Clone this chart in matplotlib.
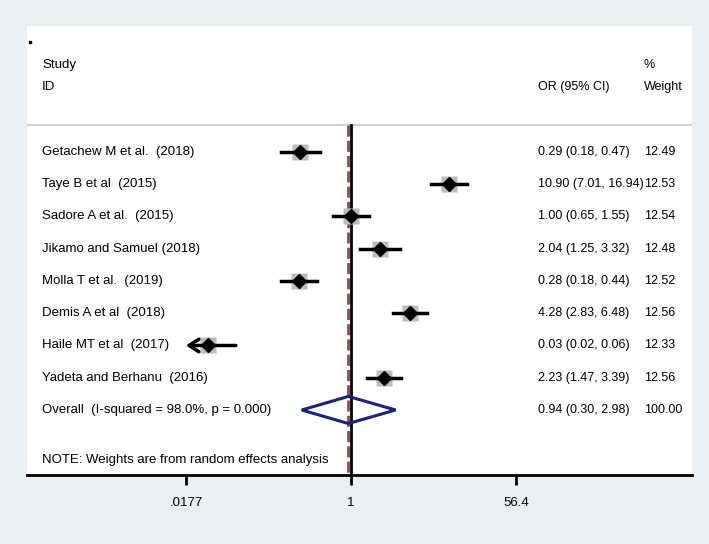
import numpy as np
import matplotlib
matplotlib.use("Agg")
import matplotlib.pyplot as plt
from matplotlib.patches import Polygon

plt.rcParams['font.family'] = ['Liberation Sans', 'DejaVu Sans']

# study data (odds ratios, 95% CI, weights)
studies = ["Getachew M et al.  (2018)", "Taye B et al  (2015)", "Sadore A et al.  (2015)",
           "Jikamo and Samuel (2018)", "Molla T et al.  (2019)", "Demis A et al  (2018)",
           "Haile MT et al  (2017)", "Yadeta and Berhanu  (2016)"]
or_est = [0.29, 10.90, 1.00, 2.04, 0.28, 4.28, 0.03, 2.23]
ci_low = [0.18, 7.01, 0.65, 1.25, 0.18, 2.83, 0.02, 1.47]
ci_high = [0.47, 16.94, 1.55, 3.32, 0.44, 6.48, 0.06, 3.39]
weights = ["12.49", "12.53", "12.54", "12.48", "12.52", "12.56", "12.33", "12.56"]
or_labels = ["0.29 (0.18, 0.47)", "10.90 (7.01, 16.94)", "1.00 (0.65, 1.55)",
             "2.04 (1.25, 3.32)", "0.28 (0.18, 0.44)", "4.28 (2.83, 6.48)",
             "0.03 (0.02, 0.06)", "2.23 (1.47, 3.39)"]

overall_label = "Overall  (I-squared = 98.0%, p = 0.000)"
overall_or = 0.94
overall_ci = (0.30, 2.98)
overall_text = "0.94 (0.30, 2.98)"
overall_weight = "100.00"

xticks = [0.0177, 1, 56.4]
xtick_labels = [".0177", "1", "56.4"]
axis_min = 0.0177

bg = "#e9f1f0"
fig = plt.figure(figsize=(7.09, 5.44), dpi=100, facecolor=bg)
ax = fig.add_axes([27 / 709, 1 - 475 / 544, 665 / 709, 449 / 544])
ax.set_facecolor("white")
ax.set_xscale("log")
ax.set_xlim(np.exp(-7.92), np.exp(8.34))
ax.set_ylim(10.016, -3.907)

for s in ["top", "left", "right"]:
    ax.spines[s].set_visible(False)
ax.spines["bottom"].set_linewidth(2)
ax.set_yticks([])
ax.set_xticks(xticks)
ax.set_xticklabels(xtick_labels, fontsize=9.5)
ax.xaxis.set_minor_locator(matplotlib.ticker.NullLocator())
ax.tick_params(axis="x", direction="out", length=7, width=2, pad=9)

tr = ax.get_yaxis_transform()  # x in axes fraction, y in data
tx = 15 / 665
or_x = (538 - 27) / 665
w_x = (644 - 27) / 665
fs = 9.5   # label column
fn = 9     # numeric columns

# header
ax.text(tx, -2.70, "Study", transform=tr, fontsize=fs, va="center")
ax.text(tx, -2.02, "ID", transform=tr, fontsize=fs, va="center")
ax.text(w_x, -2.70, "%", transform=tr, fontsize=fn, va="center")
ax.text(w_x, -2.02, "Weight", transform=tr, fontsize=fn, va="center")
ax.text(or_x, -2.02, "OR (95% CI)", transform=tr, fontsize=fn, va="center")
ax.plot([3 / 665], [-3.40], marker="s", ms=2, color="black", transform=tr)

# separator line under header
ax.axhline(-0.84, color="#c8c8c8", lw=1.2, zorder=1)

# reference lines
ax.plot([1, 1], [-0.84, 10.016], color="black", lw=2, zorder=2)
ax.plot([overall_or, overall_or], [-0.84, 10.016], color="#9b4455", lw=2,
        ls=(0, (4, 1.5)), zorder=2)

for i in range(len(studies)):
    ax.text(tx, i, studies[i], transform=tr, fontsize=fs, va="center")
    ax.text(or_x, i, or_labels[i], transform=tr, fontsize=fn, va="center")
    ax.text(w_x, i, weights[i], transform=tr, fontsize=fn, va="center")
    ax.plot(or_est[i], i, marker="s", ms=11, color="#bdbdbd", mec="none", zorder=3)
    if ci_low[i] <= 0.02:
        ax.annotate("", xy=(axis_min, i), xytext=(ci_high[i], i),
                    arrowprops=dict(arrowstyle="->,head_length=0.7,head_width=0.45",
                                    lw=2.5, color="black", shrinkA=0, shrinkB=0),
                    zorder=4)
    else:
        ax.plot([ci_low[i], ci_high[i]], [i, i], color="black", lw=2.5, zorder=4)
    ax.plot(or_est[i], i, marker="D", ms=7, color="black", zorder=5)

# overall
k = len(studies)
ax.text(tx, k, overall_label, transform=tr, fontsize=fs, va="center")
ax.text(or_x, k, overall_text, transform=tr, fontsize=fn, va="center")
ax.text(w_x, k, overall_weight, transform=tr, fontsize=fn, va="center")
diamond = Polygon([(overall_ci[0], k), (overall_or, k - 0.42), (overall_ci[1], k),
                   (overall_or, k + 0.42)], closed=True, fill=False,
                  edgecolor="#1a237e", lw=2.2, zorder=6)
ax.add_patch(diamond)

ax.text(tx, 9.55, "NOTE: Weights are from random effects analysis", transform=tr,
        fontsize=fs, va="center")

fig.savefig("out.png", dpi=100, facecolor=bg)
